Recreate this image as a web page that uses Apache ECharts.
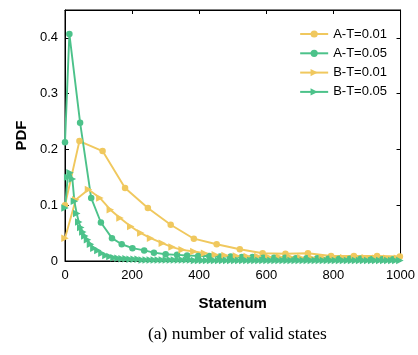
<!DOCTYPE html>
<html>
<head>
<meta charset="utf-8">
<script src="https://cdn.jsdelivr.net/npm/echarts@6/dist/echarts.min.js"></script>
<style>
html,body{margin:0;padding:0;background:#fff;}
#chart{width:418px;height:355px;}
</style>
</head>
<body>
<div id="chart"></div>
<script>
var seriesNames = ['A-T=0.01', 'A-T=0.05', 'B-T=0.01', 'B-T=0.05'];
var xTicks = [0, 200, 400, 600, 800, 1000];
var yTicks = [0, 0.1, 0.2, 0.3, 0.4];

var aT001X = [0, 43, 112, 179, 247, 315, 384, 452, 521, 589, 657, 724, 793, 861, 930, 998];
var aT001Y = [0.100, 0.215, 0.197, 0.131, 0.095, 0.065, 0.040, 0.030, 0.021, 0.014, 0.013, 0.014, 0.009, 0.009, 0.009, 0.008];

var aT005X = [0, 13, 45, 78, 107, 140, 169, 201, 236, 265, 300, 334, 364, 397, 430, 462, 494, 527, 559, 591, 623, 656, 688, 720, 752, 785, 817, 849, 881, 914, 946, 978];
var aT005Y = [0.213, 0.407, 0.248, 0.113, 0.069, 0.041, 0.030, 0.023, 0.019, 0.015, 0.012, 0.011, 0.010, 0.009, 0.009, 0.008, 0.008, 0.007, 0.007, 0.006, 0.006, 0.006, 0.005, 0.005, 0.005, 0.004, 0.004, 0.004, 0.004, 0.003, 0.003, 0.003];

var bT001X = [0, 32, 70, 104, 135, 164, 196, 226, 255, 290, 319, 349, 384, 416, 448, 477, 511, 543, 575, 607, 639, 671, 703, 735, 767, 799, 831, 863, 895, 927, 959, 991];
var bT001Y = [0.041, 0.110, 0.128, 0.113, 0.092, 0.077, 0.062, 0.050, 0.041, 0.032, 0.025, 0.020, 0.017, 0.014, 0.011, 0.010, 0.009, 0.008, 0.008, 0.007, 0.007, 0.007, 0.006, 0.006, 0.006, 0.006, 0.006, 0.006, 0.006, 0.005, 0.005, 0.005];

var bT005X = [0, 8, 15, 22, 28, 35, 41, 47, 53, 59, 67, 76, 86, 98, 110, 122, 134, 146, 158, 170, 182, 194, 206, 218, 230,
  242, 254, 266, 278, 290, 302, 314, 326, 338, 350, 362, 374, 386, 398, 410, 422, 434, 446, 458, 470, 482, 494,
  506, 518, 530, 542, 554, 566, 578, 590, 602, 614, 626, 638, 650, 662, 674, 686, 698, 710, 722, 734, 746, 758,
  770, 782, 794, 806, 818, 830, 842, 854, 866, 878, 890, 902, 914, 926, 938, 950, 962, 974, 986, 998];
var bT005Y = [0.095, 0.150, 0.158, 0.147, 0.107, 0.085, 0.070, 0.060, 0.052, 0.045, 0.038, 0.030, 0.023, 0.019, 0.014, 0.010, 0.008, 0.006, 0.005, 0.004, 0.004, 0.003, 0.003, 0.003, 0.002,
  0.002, 0.002, 0.002, 0.002, 0.002, 0.002, 0.002, 0.002, 0.002, 0.002, 0.002, 0.002, 0.001, 0.001, 0.001, 0.001, 0.001, 0.001, 0.001, 0.001, 0.001, 0.001,
  0.001, 0.001, 0.001, 0.001, 0.001, 0.001, 0.001, 0.001, 0.001, 0.001, 0.001, 0.001, 0.001, 0.001, 0.001, 0.001, 0.001, 0.001, 0.001, 0.001, 0.001, 0.001,
  0.001, 0.001, 0.001, 0.001, 0.001, 0.001, 0.001, 0.001, 0.001, 0.001, 0.001, 0.001, 0.001, 0.001, 0.001, 0.001, 0.001, 0.001, 0.001, 0.001];

var YELLOW = '#F0C85E';
var GREEN = '#4CC28A';

function pairs(xs, ys) {
  var out = [];
  for (var i = 0; i < xs.length; i++) out.push([xs[i], ys[i]]);
  return out;
}

function mkSeries(name, xs, ys, color, symbol, size, rotate) {
  return {
    name: name,
    type: 'line',
    xAxisIndex: 0,
    yAxisIndex: 0,
    data: pairs(xs, ys),
    symbol: symbol,
    symbolSize: size,
    symbolRotate: rotate,
    showAllSymbol: true,
    clip: true,
    lineStyle: { color: color, width: 1.9 },
    itemStyle: { color: color, borderWidth: 0 },
    animation: false
  };
}

var chart = echarts.init(document.getElementById('chart'), null, { renderer: 'canvas' });
var fontSans = 'Liberation Sans, Arial, Helvetica, sans-serif';

function boxAxisX(pos) {
  return {
    type: 'value', min: xTicks[0], max: xTicks[xTicks.length - 1], interval: 200,
    position: pos,
    axisLine: { show: true, onZero: false, lineStyle: { color: '#000', width: 1 } },
    axisTick: { show: true, inside: true, length: 4, lineStyle: { color: '#000' } },
    axisLabel: { show: false },
    splitLine: { show: false }
  };
}
function boxAxisY(pos) {
  return {
    type: 'value', min: 0, max: 0.45, interval: 0.1,
    position: pos,
    axisLine: { show: true, onZero: false, lineStyle: { color: '#000', width: 1 } },
    axisTick: { show: true, inside: true, length: 4, lineStyle: { color: '#000' } },
    axisLabel: { show: false },
    splitLine: { show: false }
  };
}

var xTop = boxAxisX('top');
var yRight = boxAxisY('right');

chart.setOption({
  animation: false,
  backgroundColor: '#fff',
  grid: { left: 65, right: 14.5, top: 10, bottom: 94, containLabel: false, show: true, borderColor: '#000', borderWidth: 1 },
  legend: {
    data: seriesNames,
    orient: 'vertical',
    right: 26,
    top: 22,
    itemWidth: 28,
    itemHeight: 9,
    itemGap: 5.3,
    textStyle: { fontFamily: fontSans, fontSize: 13, color: '#000', lineHeight: 14 },
    backgroundColor: 'transparent'
  },
  xAxis: [{
    type: 'value', min: xTicks[0], max: xTicks[xTicks.length - 1], interval: 200,
    position: 'bottom',
    name: 'Statenum', nameLocation: 'middle', nameGap: 35,
    nameTextStyle: { fontFamily: fontSans, fontSize: 15, fontWeight: 'bold', color: '#000' },
    axisLine: { show: true, onZero: false, lineStyle: { color: '#000', width: 1 } },
    axisTick: { show: true, inside: true, length: 4, lineStyle: { color: '#000' } },
    axisLabel: { fontFamily: fontSans, fontSize: 13, color: '#000', margin: 8,
      formatter: function (v) { return String(Math.round(v)); } },
    splitLine: { show: false }
  }, xTop],
  yAxis: [{
    type: 'value', min: 0, max: 0.45, interval: 0.1,
    position: 'left',
    name: 'PDF', nameLocation: 'middle', nameGap: 36,
    nameTextStyle: { fontFamily: fontSans, fontSize: 15, fontWeight: 'bold', color: '#000' },
    axisLine: { show: true, onZero: false, lineStyle: { color: '#000', width: 1 } },
    axisTick: { show: true, inside: true, length: 4, lineStyle: { color: '#000' } },
    axisLabel: {
      fontFamily: fontSans, fontSize: 13, color: '#000', margin: 7, showMaxLabel: false,
      formatter: function (v) { var r = Math.round(v * 10) / 10; return yTicks.indexOf(r) >= 0 ? String(r) : ''; }
    },
    splitLine: { show: false }
  }, yRight],
  graphic: [{
    type: 'text',
    left: 148,
    top: 325,
    style: {
      text: '(a) number of valid states',
      font: '17.5px "Liberation Serif", "DejaVu Serif", serif',
      fill: '#000'
    }
  }],
  series: [
    mkSeries(seriesNames[0], aT001X, aT001Y, YELLOW, 'circle', 6.5, 0),
    mkSeries(seriesNames[1], aT005X, aT005Y, GREEN, 'circle', 6.5, 0),
    mkSeries(seriesNames[2], bT001X, bT001Y, YELLOW, 'triangle', 7.5, -90),
    mkSeries(seriesNames[3], bT005X, bT005Y, GREEN, 'triangle', 7.5, -90)
  ]
});
</script>
</body>
</html>
